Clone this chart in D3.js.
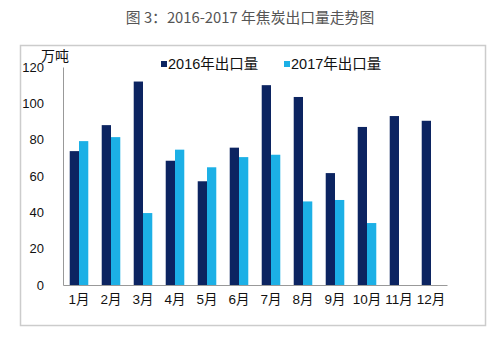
<!DOCTYPE html>
<html><head><meta charset="utf-8">
<script src="https://cdn.jsdelivr.net/npm/d3@7"></script>
<style>body{margin:0;background:#fff}svg{display:block}</style>
</head><body>
<script>
const months = ["1月","2月","3月","4月","5月","6月","7月","8月","9月","10月","11月","12月"];
const exports2016 = [73.7, 88, 112, 68.4, 57.1, 75.6, 110, 103.5, 61.6, 87, 93, 90.4];
const exports2017 = [79.2, 81.4, 39.6, 74.5, 64.8, 70.4, 71.7, 46, 46.8, 34.1, null, null];
const yTicks = [0, 20, 40, 60, 80, 100, 120];
const seriesNames = ["2016年出口量", "2017年出口量"];
const colors = ["#0c2461", "#1cb0e6"];

const W = 500, H = 338;
const svg = d3.select("body").append("svg").attr("width", W).attr("height", H);
const font = "'Liberation Sans','Noto Sans CJK SC',sans-serif";

svg.append("text").attr("x", 250).attr("y", 23).attr("text-anchor", "middle")
  .attr("font-family", "'Noto Sans CJK SC',sans-serif").attr("font-size", 14.8).attr("fill", "#555")
  .text("图 3：2016-2017 年焦炭出口量走势图");

svg.append("rect").attr("x", 20.5).attr("y", 45.5).attr("width", 465).attr("height", 280)
  .attr("fill", "#fff").attr("stroke", "#ccc").attr("stroke-width", 1.5);

const x0 = d3.scaleBand().domain(months).range([63, 447]).paddingInner(0.42).paddingOuter(0.21);
const x1 = d3.scaleBand().domain([0, 1]).range([0, x0.bandwidth()]);
const y = d3.scaleLinear().domain([0, 120]).range([285, 67]);

const yAxis = svg.append("g").attr("transform", "translate(63,0)")
  .call(d3.axisLeft(y).tickValues(yTicks).tickSize(0).tickPadding(19));
yAxis.select(".domain").attr("stroke", "#999");
yAxis.selectAll("text").attr("font-family", font).attr("font-size", 13).attr("fill", "#111");

const xAxis = svg.append("g").attr("transform", "translate(0,285)")
  .call(d3.axisBottom(x0).tickSize(0).tickPadding(9));
xAxis.select(".domain").attr("stroke", "#999");
xAxis.selectAll("text").attr("font-family", font).attr("font-size", 13.5).attr("fill", "#111");

const series = [exports2016, exports2017];
series.forEach((vals, si) => {
  svg.append("g").selectAll("rect")
    .data(months.map((m, i) => ({m, v: vals[i]})).filter(d => d.v != null))
    .join("rect")
    .attr("x", d => x0(d.m) + x1(si))
    .attr("width", x1.bandwidth())
    .attr("y", d => y(d.v))
    .attr("height", d => y(0) - y(d.v))
    .attr("fill", colors[si]);
});

svg.append("text").attr("x", 41).attr("y", 61).attr("font-family", "'Noto Sans CJK SC',sans-serif")
  .attr("font-size", 14).attr("fill", "#111").text("万吨");

const legX = [161, 284];
seriesNames.forEach((n, i) => {
  svg.append("rect").attr("x", legX[i]).attr("y", 61).attr("width", 6).attr("height", 6).attr("fill", colors[i]);
  svg.append("text").attr("x", legX[i] + 7).attr("y", 69).attr("font-family", font)
    .attr("font-size", 14.5).attr("fill", "#111").text(n);
});
</script>
</body></html>
